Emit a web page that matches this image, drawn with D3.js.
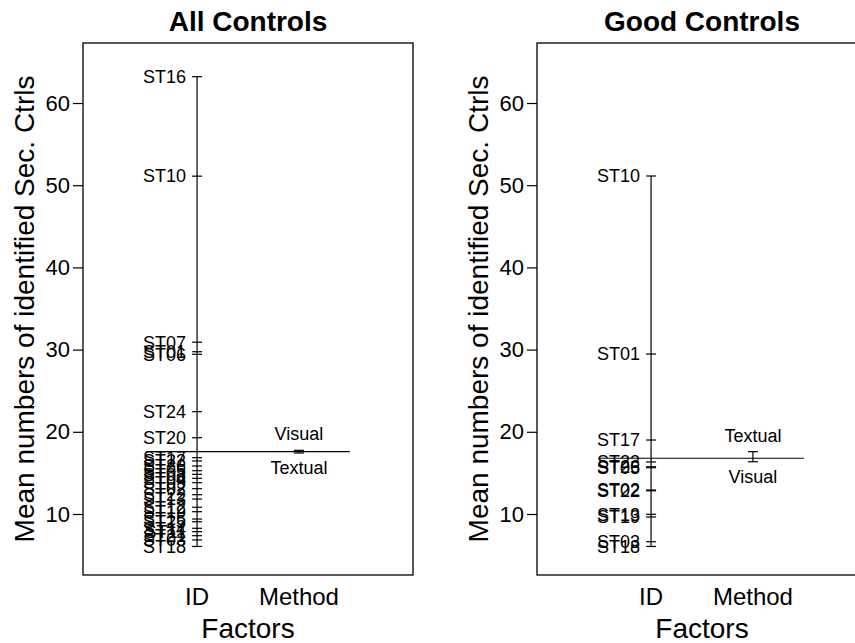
<!DOCTYPE html>
<html><head><meta charset="utf-8">
<script src="https://cdn.jsdelivr.net/npm/d3@7"></script>
<style>body{margin:0;background:#fff}svg{display:block;font-family:"Liberation Sans",Arial,sans-serif}</style>
</head><body><svg id="c" width="855" height="643"></svg>
<script>
const panelTitles = ["All Controls", "Good Controls"];
const factorNames = ["ID", "Method"];
const yTicks = [10, 20, 30, 40, 50, 60];
const yTitle = "Mean numbers of identified Sec. Ctrls";
const xTitle = "Factors";

const allIds = ["ST16","ST10","ST07","ST01","ST06","ST24","ST20","ST17","ST23","ST26","ST05","ST08","ST04","ST09","ST02","ST22","ST13","ST12","ST19","ST15","ST25","ST14","ST11","ST21","ST03","ST18"];
const allMeans = [63.2,51.1,30.9,29.74,29.43,22.45,19.28,16.85,16.45,15.84,15.27,14.83,14.34,13.81,13.08,12.35,11.82,10.82,10.28,9.39,9.06,8.26,7.85,7.36,6.84,6.05];

const goodIds = ["ST10","ST01","ST17","ST23","ST26","ST05","ST02","ST22","ST13","ST19","ST03","ST18"];
const goodMeans = [51.12,29.46,19.0,16.33,15.75,15.63,12.92,12.82,9.96,9.64,6.63,6.05];

const methodLevels = ["Visual", "Textual"];
const allMethodMeans = [17.75, 17.42];
const goodMethodMeans = [16.36, 17.58];
const grandMeans = [17.6, 16.78];

const panels = [
  {title: panelTitles[0], ids: allIds, means: allMeans, method: allMethodMeans, grand: grandMeans[0], left: 83},
  {title: panelTitles[1], ids: goodIds, means: goodMeans, method: goodMethodMeans, grand: grandMeans[1], left: 537}
];

const svg = d3.select("#c");
const W = 330, boxTop = 43, boxBottom = 575;
const y = d3.scaleLinear().domain([10, 60]).range([514, 103]);

panels.forEach(p => {
  const g = svg.append("g");
  const x = d3.scaleLinear().domain([-0.12, 3.12]).range([p.left, p.left + W]);
  g.append("rect").attr("x", p.left).attr("y", boxTop).attr("width", W).attr("height", boxBottom - boxTop)
    .attr("fill", "none").attr("stroke", "#000").attr("stroke-width", 1.3);
  g.append("text").attr("x", p.left + W / 2).attr("y", 31).attr("text-anchor", "middle")
    .attr("font-size", 28).attr("font-weight", "bold").text(p.title);
  const ax = g.append("g").attr("transform", `translate(${p.left},0)`)
    .call(d3.axisLeft(y).tickValues(yTicks).tickSize(10).tickPadding(3).tickFormat(d3.format("d")));
  ax.select(".domain").remove();
  ax.selectAll("line").attr("stroke", "#000").attr("stroke-width", 1.2);
  ax.selectAll("text").attr("font-size", 22).attr("fill", "#000").attr("font-family", "Liberation Sans, Arial, sans-serif");
  g.append("text").attr("transform", `translate(${p.left - 59},${(boxTop + boxBottom) / 2}) rotate(-90)`)
    .attr("text-anchor", "middle").attr("dy", "0.35em").attr("font-size", 28).text(yTitle);
  factorNames.forEach((f, i) => {
    g.append("text").attr("x", x(i + 1)).attr("y", 605).attr("text-anchor", "middle")
      .attr("font-size", 24).text(f);
  });
  g.append("text").attr("x", p.left + W / 2).attr("y", 638).attr("text-anchor", "middle")
    .attr("font-size", 28).text(xTitle);
  g.append("line").attr("x1", x(0.5)).attr("x2", x(2.5)).attr("y1", y(p.grand)).attr("y2", y(p.grand))
    .attr("stroke", "#000").attr("stroke-width", 1.2);
  const xi = x(1);
  g.append("line").attr("x1", xi).attr("x2", xi).attr("y1", y(d3.min(p.means))).attr("y2", y(d3.max(p.means)))
    .attr("stroke", "#000").attr("stroke-width", 1.2);
  p.means.forEach((m, i) => {
    g.append("line").attr("x1", xi - 5).attr("x2", xi + 5).attr("y1", y(m)).attr("y2", y(m))
      .attr("stroke", "#000").attr("stroke-width", 1.2);
    g.append("text").attr("x", xi - 11).attr("y", y(m)).attr("dy", "0.35em").attr("text-anchor", "end")
      .attr("font-size", 18).text(p.ids[i]);
  });
  const xm = x(2);
  const mmin = d3.min(p.method), mmax = d3.max(p.method);
  g.append("line").attr("x1", xm).attr("x2", xm).attr("y1", y(mmin)).attr("y2", y(mmax))
    .attr("stroke", "#000").attr("stroke-width", 1.2);
  p.method.forEach((m, i) => {
    g.append("line").attr("x1", xm - 5).attr("x2", xm + 5).attr("y1", y(m)).attr("y2", y(m))
      .attr("stroke", "#000").attr("stroke-width", 1.2);
    const above = m === mmax;
    g.append("text").attr("x", xm).attr("y", above ? y(m) - 10 : y(m) + 21)
      .attr("text-anchor", "middle").attr("font-size", 18).text(methodLevels[i]);
  });
});
</script></body></html>
